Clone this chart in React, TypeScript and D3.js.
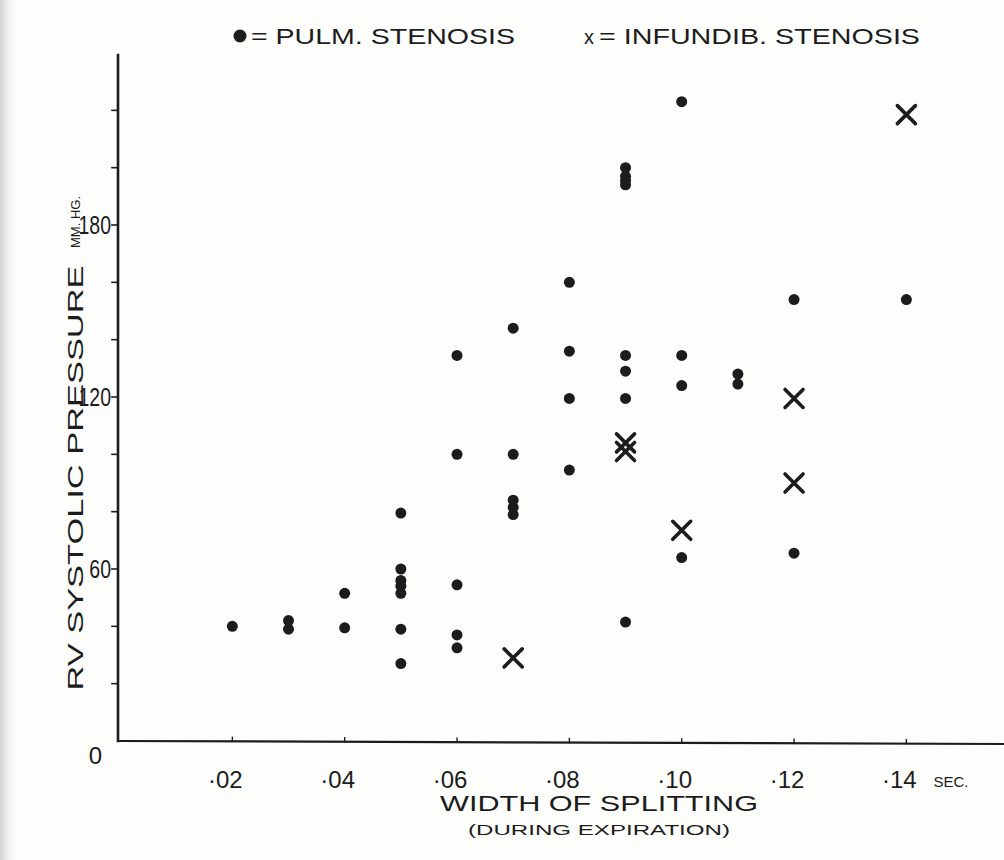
import React from "react";
import * as d3 from "d3";

// Pulmonary valvular stenosis cases: splitting width (sec) vs RV systolic pressure (mm Hg)
const pulmWidth = [
  0.02,
  0.03, 0.03,
  0.04, 0.04,
  0.05, 0.05, 0.05, 0.05, 0.05, 0.05, 0.05,
  0.06, 0.06, 0.06, 0.06, 0.06,
  0.07, 0.07, 0.07, 0.07, 0.07,
  0.08, 0.08, 0.08, 0.08,
  0.09, 0.09, 0.09, 0.09, 0.09, 0.09, 0.09, 0.09,
  0.1, 0.1, 0.1, 0.1,
  0.11, 0.11,
  0.12, 0.12,
  0.14,
];
const pulmPressure = [
  40,
  42, 39,
  51.5, 39.5,
  79.5, 60, 56, 54, 51.5, 39, 27,
  134.5, 100, 54.5, 37, 32.5,
  144, 100, 84, 81.5, 79,
  160, 136, 119.5, 94.5,
  200, 197, 195.5, 194, 134.5, 129, 119.5, 41.5,
  223, 134.5, 124, 64,
  128, 124.5,
  154, 65.5,
  154,
];

// Infundibular stenosis cases
const infWidth = [0.07, 0.09, 0.09, 0.1, 0.12, 0.12, 0.14];
const infPressure = [29, 104, 101, 73.5, 119.5, 90, 218.5];

const xTickValues = [0.02, 0.04, 0.06, 0.08, 0.1, 0.12, 0.14];
const xTickLabels = ["·02", "·04", "·06", "·08", "·10", "·12", "·14"];
const yMinorTicks = [20, 40, 60, 80, 100, 120, 140, 160, 180, 200, 220];
const yTickValues = [60, 120, 180];
const yTickLabels = ["60", "120", "180"];

const W = 1004;
const H = 860;
const INK = "#1c1c1c";
const FONT = "'Liberation Sans', 'DejaVu Sans', sans-serif";

export default function App() {
  const x = d3.scaleLinear().domain([0, 0.16]).range([120, 120 + 0.16 * 5617]);
  const y = d3.scaleLinear().domain([0, 240]).range([741, 53]);

  const pulm = pulmWidth.map((w, i) => ({ w, p: pulmPressure[i] }));
  const inf = infWidth.map((w, i) => ({ w, p: infPressure[i] }));

  const crossPath = (cx: number, cy: number, s: number) => {
    const p = d3.path();
    p.moveTo(cx - s, cy - s);
    p.lineTo(cx + s, cy + s);
    p.moveTo(cx + s, cy - s);
    p.lineTo(cx - s, cy + s);
    return p.toString();
  };

  const axisX = x(0) - 2;
  const axisY = y(0);
  const tilt = (px: number) => ((px - axisX) / (W - axisX)) * 3;

  return (
    <svg
      width={W}
      height={H}
      viewBox={`0 0 ${W} ${H}`}
      style={{ position: "absolute", left: 0, top: 0, background: "#fdfdfc" }}
    >
      <defs>
        <linearGradient id="edge" x1="0" x2="1" y1="0" y2="0">
          <stop offset="0" stopColor="#cfcfcf" />
          <stop offset="1" stopColor="#fdfdfc" stopOpacity="0" />
        </linearGradient>
      </defs>
      <rect x={0} y={0} width={W} height={H} fill="#fdfdfc" />
      <rect x={0} y={0} width={18} height={H} fill="url(#edge)" />

      {/* legend */}
      <g fill={INK} fontFamily={FONT} fontSize={22}>
        <circle cx={240} cy={36} r={6.5} />
        <text x={251} y={44} textLength={264} lengthAdjust="spacingAndGlyphs">
          = PULM.  STENOSIS
        </text>
        <text x={584} y={44} fontSize={20}>x</text>
        <text x={599} y={44} textLength={321} lengthAdjust="spacingAndGlyphs">
          = INFUNDIB. STENOSIS
        </text>
      </g>

      {/* axes */}
      <g stroke={INK} fill="none" strokeLinecap="square">
        <line x1={axisX} y1={55} x2={axisX} y2={axisY} strokeWidth={2.6} />
        <line x1={axisX} y1={axisY} x2={W} y2={axisY + 3} strokeWidth={2.2} />
        {yMinorTicks.map((v) => (
          <line key={v} x1={axisX - 6} y1={y(v)} x2={axisX} y2={y(v)} strokeWidth={1.6} />
        ))}
        {xTickValues.map((v) => (
          <line
            key={v}
            x1={x(v)}
            y1={axisY + tilt(x(v))}
            x2={x(v)}
            y2={axisY - 4 + tilt(x(v))}
            strokeWidth={1.4}
          />
        ))}
      </g>

      {/* y tick labels (narrow lettering) */}
      <g fill={INK} fontFamily={FONT} fontSize={25} textAnchor="end">
        {yTickValues.map((v, i) => (
          <text
            key={v}
            transform={`translate(${axisX - 7},${y(v) + 9}) scale(0.78,1)`}
          >
            {yTickLabels[i]}
          </text>
        ))}
        <text x={102} y={764} fontSize={24}>0</text>
      </g>

      {/* x tick labels */}
      <g fill={INK} fontFamily={FONT} fontSize={24} textAnchor="middle">
        {xTickValues.map((v, i) => (
          <text key={v} x={x(v) - 7} y={788}>
            {xTickLabels[i]}
          </text>
        ))}
        <text x={951} y={787} fontSize={15}>SEC.</text>
      </g>

      {/* axis titles */}
      <g fill={INK} fontFamily={FONT}>
        <text
          transform="translate(83,478) rotate(-90)"
          textAnchor="middle"
          fontSize={22}
          textLength={425}
          lengthAdjust="spacingAndGlyphs"
        >
          RV  SYSTOLIC  PRESSURE
        </text>
        <text transform="translate(80,222) rotate(-90)" textAnchor="middle" fontSize={13}>
          MM. HG.
        </text>
        <text
          x={599}
          y={811}
          textAnchor="middle"
          fontSize={22}
          textLength={318}
          lengthAdjust="spacingAndGlyphs"
        >
          WIDTH  OF  SPLITTING
        </text>
        <text
          x={599}
          y={835}
          textAnchor="middle"
          fontSize={15}
          textLength={262}
          lengthAdjust="spacingAndGlyphs"
        >
          (DURING EXPIRATION)
        </text>
      </g>

      {/* pulmonary stenosis points */}
      <g fill={INK}>
        {pulm.map((d, i) => (
          <circle key={i} cx={x(d.w)} cy={y(d.p)} r={5.5} />
        ))}
      </g>

      {/* infundibular stenosis points */}
      <g stroke={INK} strokeWidth={3.6} fill="none" strokeLinecap="round">
        {inf.map((d, i) => (
          <path key={i} d={crossPath(x(d.w), y(d.p), 9)} />
        ))}
      </g>
    </svg>
  );
}
